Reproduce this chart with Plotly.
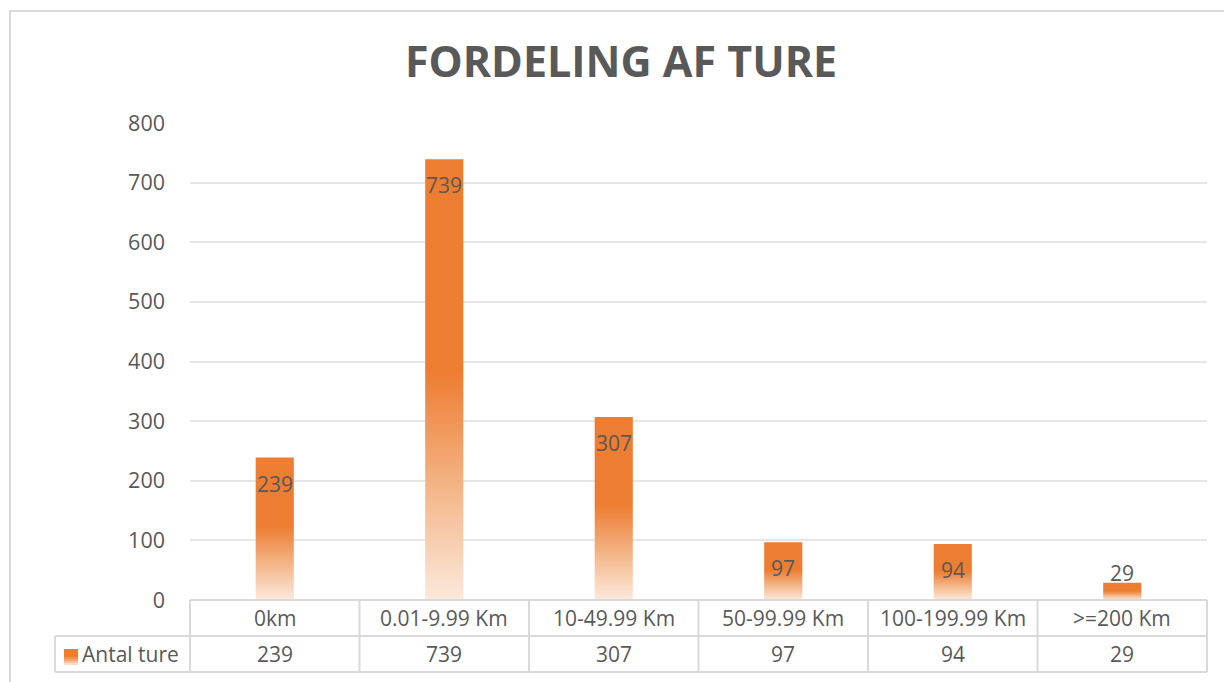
import plotly.graph_objects as go

# ---- data ----
categories = ["0km", "0.01-9.99 Km", "10-49.99 Km", "50-99.99 Km", "100-199.99 Km", ">=200 Km"]
antal_ture = [239, 739, 307, 97, 94, 29]
series_name = "Antal ture"
title_text = "FORDELING AF TURE"
y_ticks = [0, 100, 200, 300, 400, 500, 600, 700, 800]

# ---- style ----
W, H = 1224, 682
ML, MR, MT, MB = 190, 17, 123, 82
PW, PH = W - ML - MR, H - MT - MB
ORANGE = "#ED7D31"
TXT = "#595959"
GRID = "#D9D9D9"
LIGHTGRID = "#E6E6E6"
FONT = "Open Sans"
BAR_W = 0.225
GRADIENT = [[0.0, "#FCE9DC"], [0.25, "#F4B689"], [0.45, "#EF8B48"], [0.52, ORANGE], [1.0, ORANGE]]


def px_x(px):
    return (px - ML) / PW


def px_y(py):
    return (H - MB - py) / PH


fig = go.Figure()

# bars with vertical gradient fill (one trace per bar)
for i, v in enumerate(antal_ture):
    fig.add_trace(go.Scatter(
        x=[i - BAR_W / 2, i + BAR_W / 2, i + BAR_W / 2, i - BAR_W / 2, i - BAR_W / 2],
        y=[0, 0, v, v, 0],
        mode="lines", fill="toself",
        line=dict(width=0, color=ORANGE),
        fillgradient=dict(type="vertical", colorscale=GRADIENT),
        hoverinfo="skip", showlegend=False,
    ))

annotations = []
# data labels
for i, v in enumerate(antal_ture):
    inside = v >= 60
    annotations.append(dict(
        x=i, y=v, xref="x", yref="y", text=str(v), showarrow=False,
        yshift=-26 if inside else 10,
        font=dict(family=FONT, size=21, color=TXT),
    ))

shapes = []
line_style = dict(color=GRID, width=2)
n = len(categories)
row0, row1, row2 = 600, 636, 672
# horizontal table lines
shapes.append(dict(type="line", xref="paper", yref="paper", x0=0, x1=1, y0=px_y(row0), y1=px_y(row0), line=line_style))
for r in (row1, row2):
    shapes.append(dict(type="line", xref="paper", yref="paper", x0=px_x(55), x1=1, y0=px_y(r), y1=px_y(r), line=line_style))
# vertical table lines
for k in range(n + 1):
    shapes.append(dict(type="line", xref="paper", yref="paper", x0=k / n, x1=k / n,
                       y0=px_y(row0), y1=px_y(row2), line=line_style))
shapes.append(dict(type="line", xref="paper", yref="paper", x0=px_x(55), x1=px_x(55),
                   y0=px_y(row1), y1=px_y(row2), line=line_style))

# table text
for i, (c, v) in enumerate(zip(categories, antal_ture)):
    annotations.append(dict(x=i, y=px_y((row0 + row1) / 2), xref="x", yref="paper", text=c,
                            showarrow=False, yanchor="middle",
                            font=dict(family=FONT, size=21, color=TXT)))
    annotations.append(dict(x=i, y=px_y((row1 + row2) / 2), xref="x", yref="paper", text=str(v),
                            showarrow=False, yanchor="middle",
                            font=dict(family=FONT, size=21, color=TXT)))
annotations.append(dict(x=px_x(80), y=px_y((row1 + row2) / 2), xref="paper", yref="paper",
                        text=series_name, showarrow=False, xanchor="left", yanchor="middle",
                        font=dict(family=FONT, size=21, color=TXT)))

# legend key (small gradient square)
key_cols = [ORANGE, ORANGE, ORANGE, ORANGE, "#EF8F4E", "#F2A571", "#F6C19C", "#FADCC7"]
k_top, k_bot = 649, 665
step = (k_bot - k_top) / len(key_cols)
for j, col in enumerate(key_cols):
    shapes.append(dict(type="rect", xref="paper", yref="paper",
                       x0=px_x(64), x1=px_x(78),
                       y0=px_y(k_top + step * (j + 1)), y1=px_y(k_top + step * j),
                       fillcolor=col, line=dict(width=0)))

# outer chart border
shapes.append(dict(type="rect", xref="paper", yref="paper",
                   x0=px_x(10), x1=px_x(W + 10), y0=px_y(H + 10), y1=px_y(11),
                   line=dict(color=GRID, width=2), fillcolor="rgba(0,0,0,0)", layer="below"))

fig.update_layout(
    width=W, height=H,
    margin=dict(l=ML, r=MR, t=MT, b=MB),
    paper_bgcolor="white", plot_bgcolor="white",
    title=dict(text=f"<b>{title_text}</b>", x=621 / W, xref="container", xanchor="center",
               y=1 - 62 / H, yref="container", yanchor="middle",
               font=dict(family=FONT, size=43, color=TXT)),
    xaxis=dict(range=[-0.5, n - 0.5], showticklabels=False, showgrid=False,
               zeroline=False, showline=False, fixedrange=True),
    yaxis=dict(range=[0, 800], tickvals=y_ticks, showgrid=True, gridcolor=LIGHTGRID, gridwidth=1.5,
               zeroline=False, showline=False, ticks="", ticklabelstandoff=24,
               tickfont=dict(family=FONT, size=21.5, color=TXT)),
    shapes=shapes,
    annotations=annotations,
    showlegend=False,
)

fig.write_html("out.html", config={"displayModeBar": False},
               post_script="document.body.style.margin='0';")
